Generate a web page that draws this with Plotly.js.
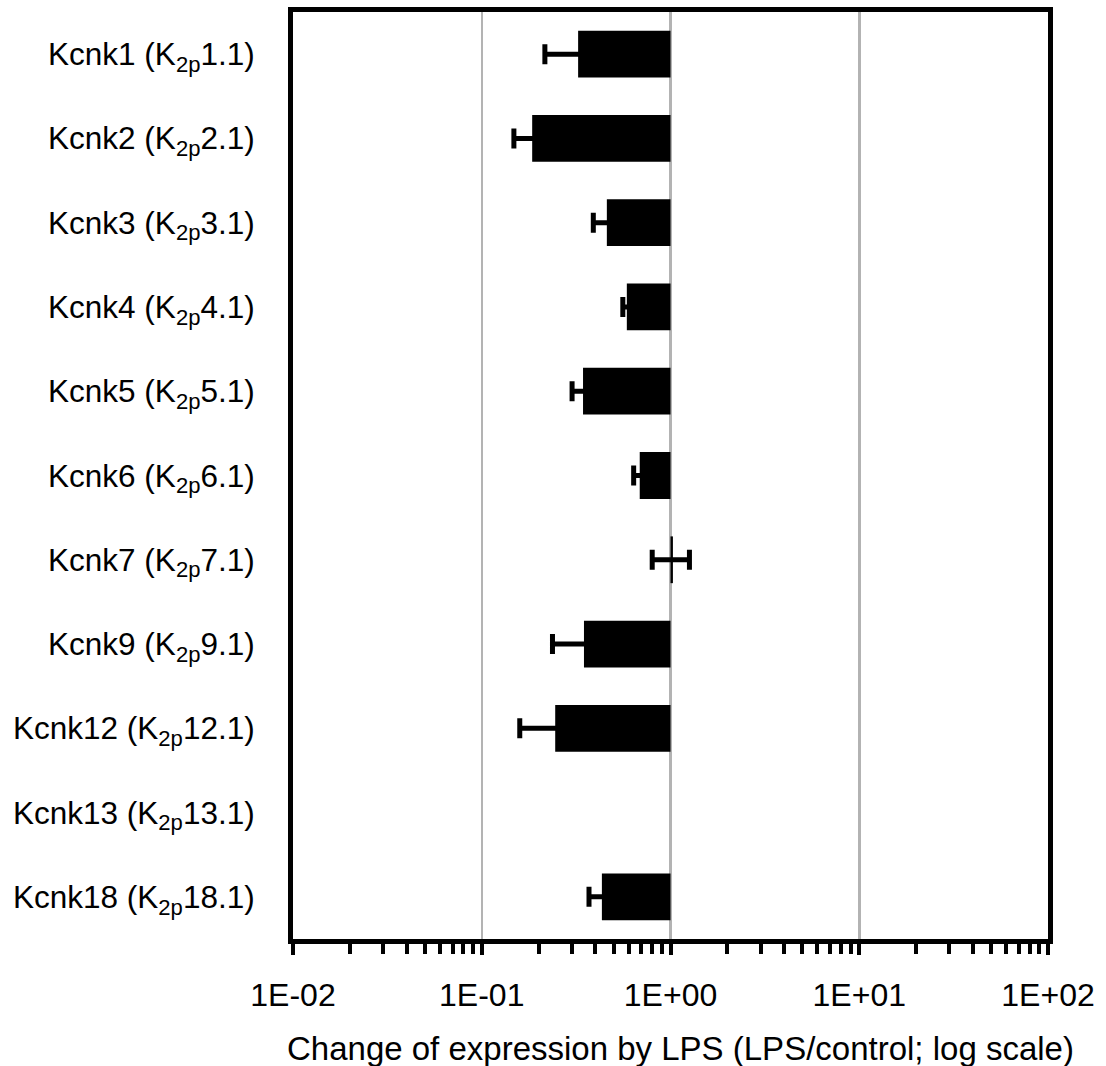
<!DOCTYPE html>
<html>
<head>
<meta charset="utf-8">
<script src="https://cdn.plot.ly/plotly-3.0.1.min.js"></script>
<style>
  html, body { margin: 0; padding: 0; background: #fff; }
  #chart { width: 1106px; height: 1066px; }
</style>
</head>
<body>
<div id="chart"></div>
<script>
// K2P channel genes, top to bottom
const genes = ['Kcnk1', 'Kcnk2', 'Kcnk3', 'Kcnk4', 'Kcnk5', 'Kcnk6',
               'Kcnk7', 'Kcnk9', 'Kcnk12', 'Kcnk13', 'Kcnk18'];
const channels = ['1.1', '2.1', '3.1', '4.1', '5.1', '6.1',
                  '7.1', '9.1', '12.1', '13.1', '18.1'];

// LPS/control expression ratio and its error (Kcnk13 not detected)
const ratio = [0.324, 0.185, 0.460, 0.587, 0.344, 0.687,
               1.03, 0.348, 0.245, null, 0.433];
const ratioErr = [0.108, 0.037, 0.070, 0.028, 0.043, 0.049,
                  0.23, 0.111, 0.086, null, 0.063];

// axis ticks
const majorTicks = [0.01, 0.1, 1, 10, 100];
const majorLabels = ['1E-02', '1E-01', '1E+00', '1E+01', '1E+02'];

const labels = genes.map((g, i) => `${g} (K<sub>2p</sub>${channels[i]})`);

// bars start at ratio = 1 and run to the measured ratio
const baseline = 1;
const barLen = ratio.map(v => v === null ? null : v - baseline);

const minorTicks = [];
for (let d = 0; d < majorTicks.length - 1; d++) {
  for (let k = 2; k <= 9; k++) minorTicks.push(majorTicks[d] * k);
}

const font = "Liberation Sans, Arial, Helvetica, sans-serif";

const trace = {
  type: 'bar',
  orientation: 'h',
  y: labels,
  x: barLen,
  base: baseline,
  marker: { color: '#000000', line: { width: 0 } },
  error_x: {
    type: 'data',
    array: ratioErr,
    symmetric: true,
    color: '#000000',
    thickness: 5,
    width: 10
  },
  hoverinfo: 'skip'
};

const layout = {
  width: 1106,
  height: 1066,
  margin: { l: 293, r: 58, t: 12, b: 127 },
  paper_bgcolor: '#ffffff',
  plot_bgcolor: '#ffffff',
  showlegend: false,
  bargap: 0.445,
  font: { family: font, size: 32, color: '#000000' },
  xaxis: {
    type: 'log',
    range: [-2, 2],
    tickmode: 'array',
    tickvals: majorTicks,
    ticktext: majorLabels,
    ticks: 'outside',
    ticklen: 11,
    tickwidth: 4,
    tickcolor: '#000000',
    tickfont: { family: font, size: 32, color: '#000000' },
    ticklabelstandoff: 13,
    showgrid: true,
    gridcolor: '#b3b3b3',
    gridwidth: 2.5,
    showline: true,
    linecolor: '#000000',
    linewidth: 5,
    mirror: true,
    zeroline: false,
    minor: {
      tickmode: 'array',
      tickvals: minorTicks,
      ticks: 'outside',
      ticklen: 10,
      tickwidth: 4,
      tickcolor: '#000000',
      showgrid: false
    }
  },
  yaxis: {
    type: 'category',
    autorange: 'reversed',
    ticks: '',
    showgrid: false,
    showline: true,
    linecolor: '#000000',
    linewidth: 5,
    mirror: true,
    zeroline: false,
    tickfont: { family: font, size: 31.5, color: '#000000' },
    ticklabelstandoff: 27
  },
  annotations: [{
    text: 'Change of expression by LPS (LPS/control; log scale)',
    xref: 'paper', yref: 'paper',
    x: 0.513, y: 0,
    xanchor: 'center', yanchor: 'middle',
    yshift: -109,
    borderpad: 0,
    showarrow: false,
    font: { family: font, size: 33, color: '#000000' }
  }]
};

Plotly.newPlot('chart', [trace], layout, { displayModeBar: false, staticPlot: true });
</script>
</body>
</html>
